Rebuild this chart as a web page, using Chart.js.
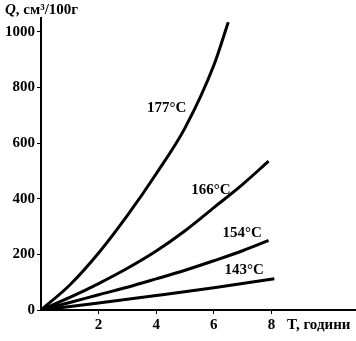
<!DOCTYPE html>
<html>
<head>
<meta charset="utf-8">
<script src="https://cdn.jsdelivr.net/npm/chart.js@4/dist/chart.umd.min.js"></script>
<style>
  html, body { margin: 0; padding: 0; background: #fff; }
  canvas { display: block; }
</style>
</head>
<body>
<canvas id="chart" width="356" height="341"></canvas>
<script>
// series labels
const temps = ["177°C", "166°C", "154°C", "143°C"];

// hours (T) and volume (Q, cm3/100g) per temperature
const hours177 = [0, 1, 2, 3, 4, 5, 6, 6.5];
const q177     = [0, 90, 205, 340, 490, 655, 880, 1035];
const hours166 = [0, 1, 2, 3, 4, 5, 6, 7, 7.9];
const q166     = [0, 45, 95, 150, 212, 285, 368, 452, 535];
const hours154 = [0, 1, 2, 3, 4, 5, 6, 7, 7.9];
const q154     = [0, 27, 55, 82, 112, 143, 177, 213, 250];
const hours143 = [0, 2, 4, 6, 8.1];
const q143     = [0, 25, 52, 80, 112];

const xTicks = [2, 4, 6, 8];
const yTicks = [0, 200, 400, 600, 800, 1000];

// where the temperature labels sit (data coords)
const labelAt = [[4.36, 727], [5.9, 432], [6.98, 278], [7.05, 145]];

const font = "bold 15px 'Liberation Serif', 'DejaVu Serif', serif";

function pts(xs, ys) {
  return xs.map((x, i) => ({ x: x, y: ys[i] }));
}

const seriesData = [pts(hours177, q177), pts(hours166, q166), pts(hours154, q154), pts(hours143, q143)];

const textPlugin = {
  id: 'texts',
  afterDraw(chart) {
    const ctx = chart.ctx;
    const xs = chart.scales.x, ys = chart.scales.y;
    ctx.save();
    ctx.fillStyle = '#000';
    ctx.font = font;
    ctx.textBaseline = 'middle';
    ctx.textAlign = 'center';
    temps.forEach((t, i) => {
      ctx.fillText(t, xs.getPixelForValue(labelAt[i][0]), ys.getPixelForValue(labelAt[i][1]));
    });
    // axis titles
    ctx.textAlign = 'left';
    ctx.font = "italic bold 15px 'Liberation Serif', serif";
    ctx.fillText("Q", 5, 10);
    const qw = ctx.measureText("Q").width;
    ctx.font = font;
    ctx.fillText(", см³/100г", 5 + qw, 10);
    ctx.fillText("T, години", 287, 325);
    ctx.restore();
  }
};

new Chart(document.getElementById("chart"), {
  type: 'scatter',
  data: {
    datasets: seriesData.map((d, i) => ({
      label: temps[i],
      data: d,
      showLine: true,
      borderColor: '#000',
      borderWidth: 3,
      pointRadius: 0,
      cubicInterpolationMode: 'monotone',
      fill: false
    }))
  },
  options: {
    responsive: false,
    animation: false,
    devicePixelRatio: 1,
    layout: { padding: { top: 18, right: 1, left: 0, bottom: 0 } },
    plugins: { legend: { display: false }, tooltip: { enabled: false } },
    scales: {
      x: {
        type: 'linear',
        min: 0,
        max: 10.9,
        afterBuildTicks(scale) { scale.ticks = xTicks.map(v => ({ value: v })); },
        afterFit(scale) { scale.height = 31; },
        border: { color: '#000', width: 2 },
        grid: { drawOnChartArea: false, color: '#000', tickLength: 4, lineWidth: 1 },
        ticks: { color: '#000', font: { family: "'Liberation Serif', serif", size: 15, weight: 'bold' }, padding: 2, maxRotation: 0, autoSkip: false }
      },
      y: {
        min: 0,
        max: 1050,
        afterBuildTicks(scale) { scale.ticks = yTicks.map(v => ({ value: v })); },
        afterFit(scale) { scale.width = 41; },
        border: { color: '#000', width: 2 },
        grid: { drawOnChartArea: false, color: '#000', tickLength: 4, lineWidth: 1 },
        ticks: {
          color: '#000',
          font: { family: "'Liberation Serif', serif", size: 15, weight: 'bold' },
          padding: 2,
          autoSkip: false,
          callback: v => String(v)
        }
      }
    }
  },
  plugins: [textPlugin]
});
</script>
</body>
</html>
